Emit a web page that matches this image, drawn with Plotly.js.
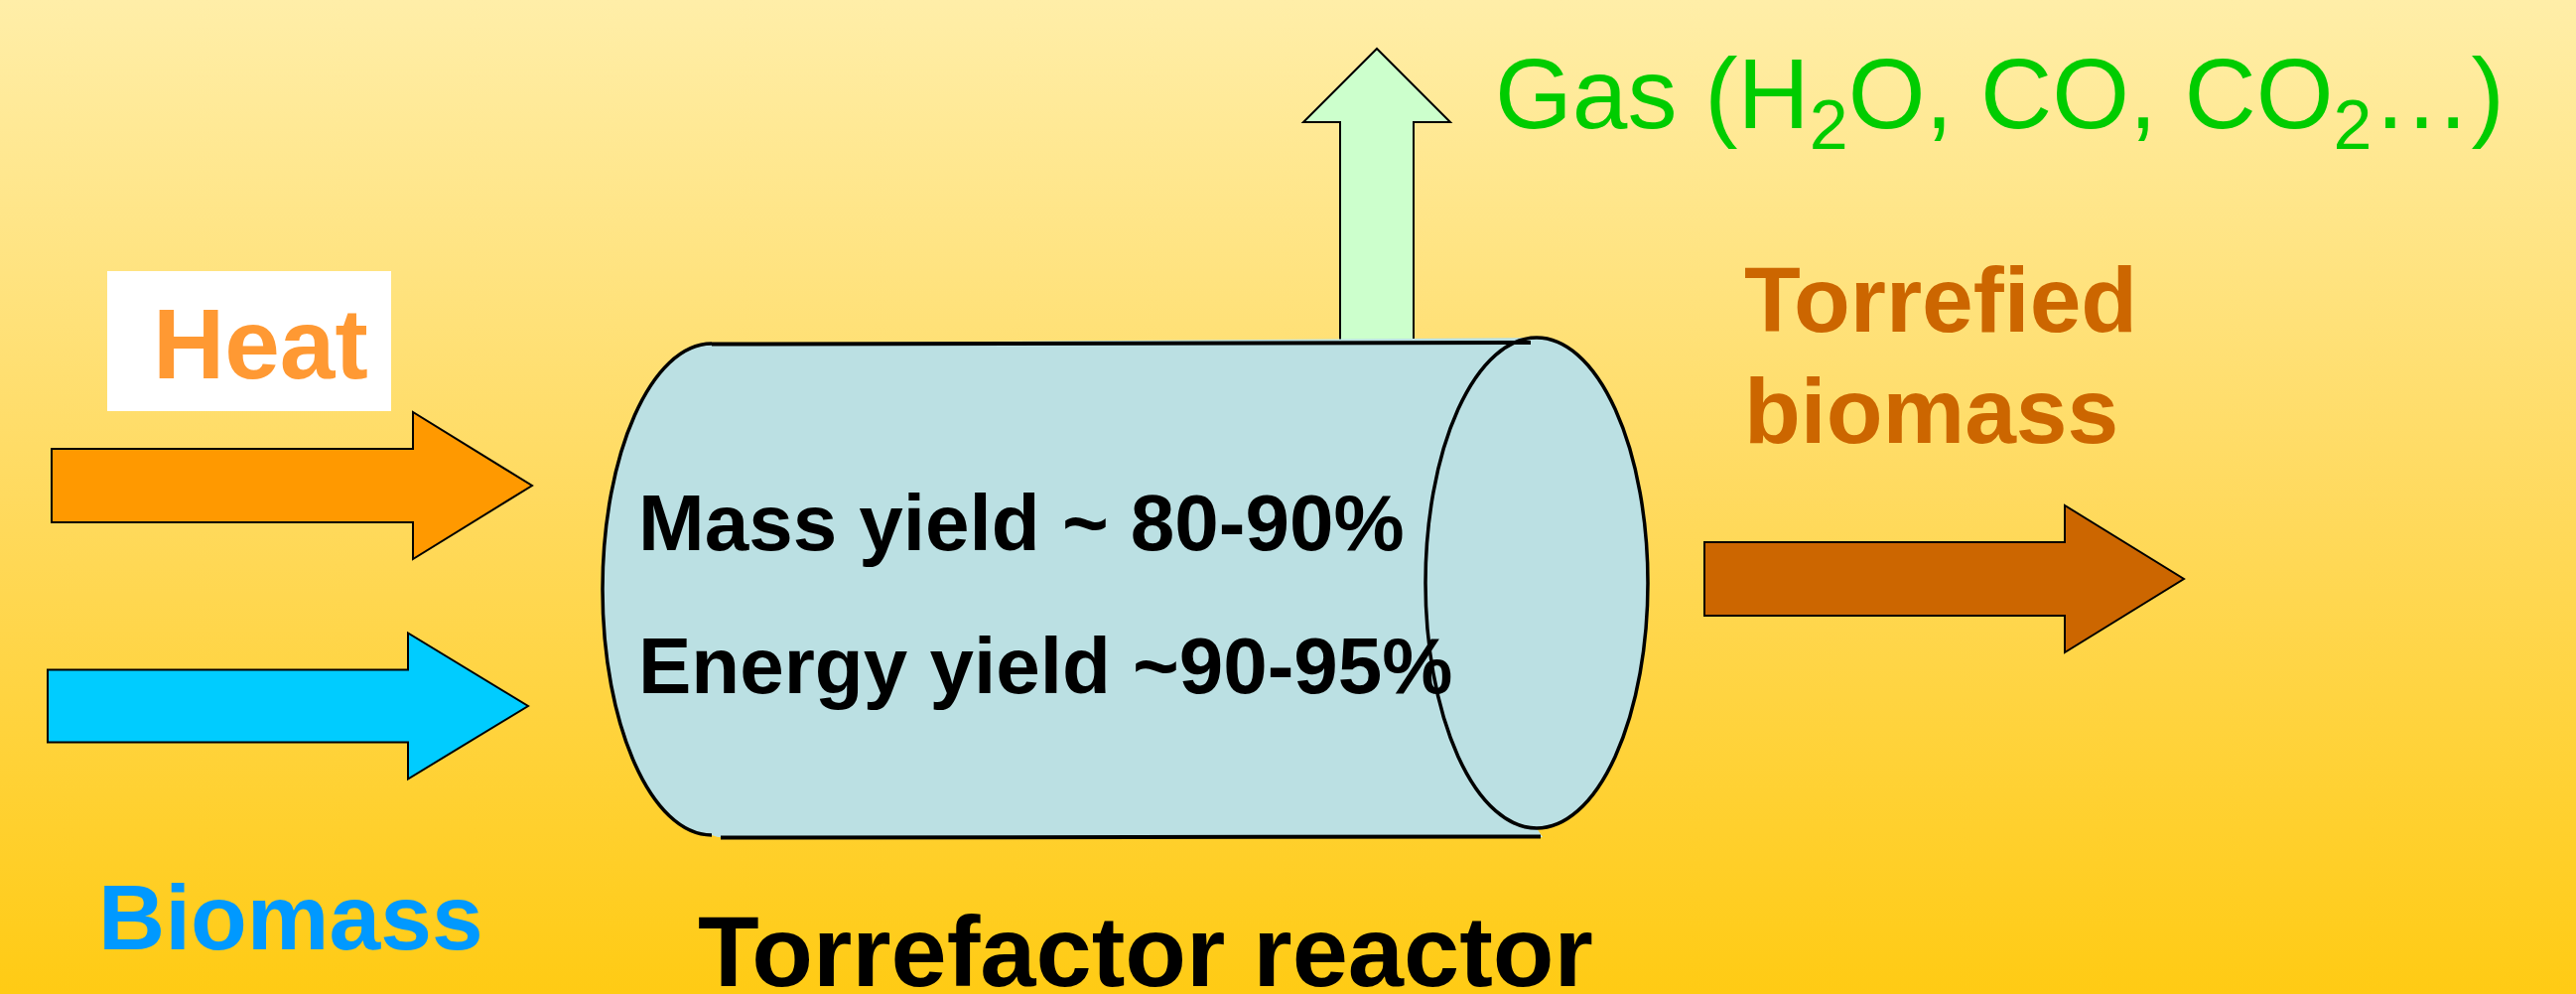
<!DOCTYPE html>
<html>
<head>
<meta charset="utf-8">
<script src="https://cdn.plot.ly/plotly-3.0.1.min.js"></script>
<style>
  html, body { margin: 0; padding: 0; overflow: hidden; }
  #chart { width: 2595px; height: 1001px;
           background: linear-gradient(to bottom, #FFEEA8 0%, #FFDA5F 50%, #FFCB14 100%); }
</style>
</head>
<body>
<div id="chart"></div>
<script>
// ---- Diagram content (texts) ----
const inputLabels   = ['Heat', 'Biomass'];
const gasLabel      = 'Gas (H<sub>2</sub>O, CO, CO<sub>2</sub>…)';
const productLines  = ['Torrefied', 'biomass'];
const reactorLabel  = 'Torrefactor reactor';
const yieldNames    = ['Mass yield', 'Energy yield'];
const yieldRanges   = ['~ 80-90%', '~90-95%'];

const FONT = '"Liberation Sans", Arial, sans-serif';
const K = 0.5523;

function rightArrow(x0, x1, xh, yc, bh, hh) {
  // body from x0 to x1, head from x1 to xh, body half-height bh, head half-height hh
  return `M${x0},${yc-bh} L${x1},${yc-bh} L${x1},${yc-hh} L${xh},${yc} L${x1},${yc+hh} L${x1},${yc+bh} L${x0},${yc+bh} Z`;
}
function upArrow(xc, yb, yh, yt, bw, hw) {
  return `M${xc-bw},${yb} L${xc-bw},${yh} L${xc-hw},${yh} L${xc},${yt} L${xc+hw},${yh} L${xc+bw},${yh} L${xc+bw},${yb} Z`;
}
// half ellipse paths (cubic bezier)
function leftHalf(cx, cy, rx, ry) { // from top, via left, to bottom
  return `C${cx-K*rx},${cy-ry} ${cx-rx},${cy-K*ry} ${cx-rx},${cy} ` +
         `C${cx-rx},${cy+K*ry} ${cx-K*rx},${cy+ry} ${cx},${cy+ry}`;
}
function rightHalf(cx, cy, rx, ry) { // from top, via right, to bottom
  return `C${cx+K*rx},${cy-ry} ${cx+rx},${cy-K*ry} ${cx+rx},${cy} ` +
         `C${cx+rx},${cy+K*ry} ${cx+K*rx},${cy+ry} ${cx},${cy+ry}`;
}
function leftHalfRev(cx, cy, rx, ry) { // from bottom, via left, to top
  return `C${cx-K*rx},${cy+ry} ${cx-rx},${cy+K*ry} ${cx-rx},${cy} ` +
         `C${cx-rx},${cy-K*ry} ${cx-K*rx},${cy-ry} ${cx},${cy-ry}`;
}

const L = {cx: 717, cy: 593.5, rx: 110, ry: 247.5};
const R = {cx: 1548, cy: 587, rx: 112, ry: 247};

const bodyPath =
  `M${L.cx},${L.cy-L.ry} L${R.cx},${R.cy-R.ry} ` + rightHalf(R.cx, R.cy, R.rx, R.ry) +
  ` L1554,843 L${L.cx+6},843 L${L.cx},${L.cy+L.ry} ` + leftHalfRev(L.cx, L.cy, L.rx, L.ry) + ' Z';

const shapes = [
  // Heat white label box
  {type: 'rect', xref: 'x', yref: 'y', x0: 108, x1: 394, y0: 273, y1: 414,
   fillcolor: '#FFFFFF', line: {width: 0}},
  // input arrows
  {type: 'path', xref: 'x', yref: 'y', path: rightArrow(52, 416, 536, 489, 37, 74),
   fillcolor: '#FF9900', line: {color: '#000000', width: 2}},
  {type: 'path', xref: 'x', yref: 'y', path: rightArrow(48, 411, 532, 711, 36.5, 73.5),
   fillcolor: '#00CCFF', line: {color: '#000000', width: 2}},
  // output arrow
  {type: 'path', xref: 'x', yref: 'y', path: rightArrow(1717, 2080, 2200, 583, 37, 74),
   fillcolor: '#CC6600', line: {color: '#000000', width: 2}},
  // gas arrow
  {type: 'path', xref: 'x', yref: 'y', path: upArrow(1387, 346, 123, 49, 37, 74),
   fillcolor: '#CCFFCC', line: {color: '#000000', width: 2}},
  // cylinder body
  {type: 'path', xref: 'x', yref: 'y', path: bodyPath,
   fillcolor: '#BBE0E3', line: {width: 0}},
  // right end ellipse
  {type: 'circle', xref: 'x', yref: 'y', x0: R.cx-R.rx, x1: R.cx+R.rx, y0: R.cy-R.ry, y1: R.cy+R.ry,
   fillcolor: 'rgba(0,0,0,0)', line: {color: '#000000', width: 3.5}},
  // left end half ellipse
  {type: 'path', xref: 'x', yref: 'y',
   path: `M${L.cx},${L.cy-L.ry} ` + leftHalf(L.cx, L.cy, L.rx, L.ry),
   line: {color: '#000000', width: 3.5}},
  // top & bottom lines
  {type: 'path', xref: 'x', yref: 'y', path: `M${L.cx},346.5 L1542,345`,
   line: {color: '#000000', width: 4}},
  {type: 'path', xref: 'x', yref: 'y', path: `M726,843.5 L1552,842.5`,
   line: {color: '#000000', width: 4}}
];

function ann(text, x, y, size, color, bold, yanchor) {
  return {text: bold ? '<b>' + text + '</b>' : text, x: x, y: y, xref: 'x', yref: 'y',
          xanchor: 'left', yanchor: yanchor || 'middle', showarrow: false,
          font: {family: FONT, size: size, color: color}};
}

const annotations = [
  ann(inputLabels[0], 152, 346, 100, '#FF9933', true),
  ann(inputLabels[1], 97, 924, 93, '#0099FF', true),
  ann(gasLabel, 1504, 36, 100, '#00CC00', false, 'top'),
  ann(productLines[0], 1755, 302, 93, '#CC6600', true),
  ann(productLines[1], 1755, 414, 93, '#CC6600', true),
  ann(yieldNames[0] + ' ' + yieldRanges[0], 641, 526, 80, '#000000', true),
  ann(yieldNames[1] + ' ' + yieldRanges[1], 641, 670, 80, '#000000', true),
  ann(reactorLabel, 701, 958, 101, '#000000', true)
];

const layout = {
  width: 2595, height: 1001,
  margin: {l: 0, r: 0, t: 0, b: 0, pad: 0},
  paper_bgcolor: 'rgba(0,0,0,0)', plot_bgcolor: 'rgba(0,0,0,0)',
  xaxis: {range: [0, 2595], visible: false, fixedrange: true},
  yaxis: {range: [1001, 0], visible: false, fixedrange: true},
  showlegend: false,
  shapes: shapes,
  annotations: annotations
};

Plotly.newPlot('chart', [], layout, {staticPlot: true, displayModeBar: false});
</script>
</body>
</html>
